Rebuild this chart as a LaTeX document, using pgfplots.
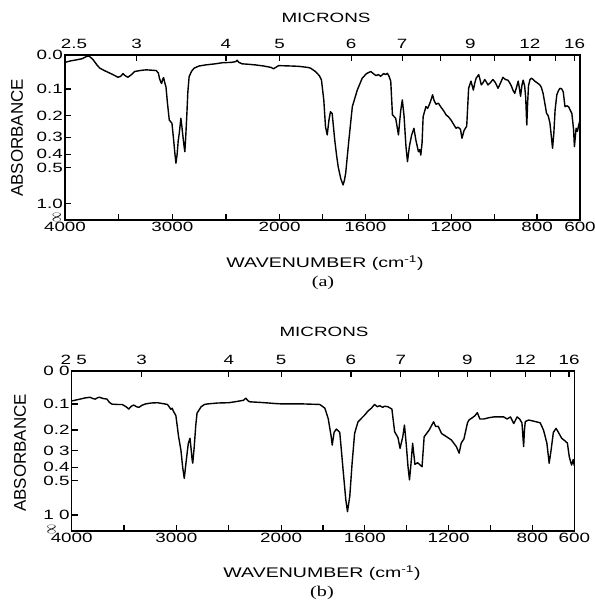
\documentclass[border=0pt]{standalone}
\usepackage{fontspec}
\setmainfont{Liberation Sans}
\newfontfamily\widesans{Liberation Sans}[FakeStretch=1.4]
\newfontfamily\wideserif{Liberation Serif}[FakeStretch=1.35]
\usepackage{pgfplots}
\usepackage{pgfplotstable}
\pgfplotsset{compat=1.18}

% spectrum (a): wavenumber (cm^-1), absorbance
\pgfplotstableread{
wn A
4000 0.020
3950 0.016
3892 0.013
3840 0.010
3800 0.004
3775 0.003
3740 0.012
3700 0.028
3676 0.036
3640 0.042
3614 0.046
3560 0.054
3506 0.063
3480 0.060
3460 0.052
3440 0.058
3414 0.063
3380 0.055
3352 0.046
3300 0.043
3244 0.041
3151 0.043
3130 0.050
3120 0.066
3105 0.080
3099 0.082
3090 0.070
3081 0.064
3070 0.080
3059 0.093
3045 0.150
3028 0.218
3003 0.232
2990 0.300
2975 0.400
2966 0.463
2955 0.400
2945 0.320
2935 0.280
2920 0.210
2910 0.250
2900 0.300
2890 0.350
2883 0.383
2875 0.300
2865 0.200
2855 0.110
2843 0.061
2820 0.045
2796 0.036
2750 0.030
2688 0.027
2600 0.024
2534 0.021
2450 0.020
2410 0.018
2396 0.014
2380 0.020
2349 0.024
2300 0.025
2225 0.027
2150 0.030
2080 0.034
2056 0.038
2030 0.033
2009 0.029
1950 0.030
1911 0.031
1870 0.034
1856 0.036
1833 0.046
1815 0.058
1805 0.071
1794 0.138
1786 0.248
1778 0.288
1770 0.218
1763 0.183
1755 0.190
1743 0.314
1735 0.400
1727 0.491
1715 0.600
1704 0.673
1698 0.620
1692 0.548
1677 0.314
1661 0.163
1638 0.104
1615 0.066
1595 0.052
1575 0.046
1563 0.052
1551 0.058
1540 0.055
1529 0.060
1515 0.052
1505 0.055
1498 0.051
1490 0.060
1482 0.075
1474 0.196
1459 0.210
1446 0.288
1440 0.220
1435 0.176
1428 0.138
1420 0.200
1411 0.352
1404 0.452
1395 0.350
1385 0.290
1374 0.255
1365 0.314
1353 0.383
1347 0.370
1342 0.405
1336 0.330
1331 0.203
1318 0.163
1310 0.170
1302 0.155
1295 0.140
1287 0.120
1280 0.140
1271 0.154
1260 0.150
1248 0.165
1235 0.180
1224 0.196
1212 0.205
1201 0.218
1190 0.235
1178 0.255
1168 0.250
1157 0.260
1150 0.305
1140 0.265
1128 0.245
1119 0.098
1108 0.075
1097 0.104
1090 0.080
1084 0.066
1072 0.055
1066 0.070
1060 0.087
1052 0.080
1044 0.070
1036 0.078
1029 0.087
1018 0.080
1006 0.070
994 0.080
982 0.098
970 0.080
959 0.063
948 0.070
936 0.072
928 0.080
920 0.090
912 0.105
904 0.115
896 0.095
888 0.075
882 0.100
877 0.125
871 0.090
865 0.072
858 0.090
853 0.130
848 0.240
844 0.150
840 0.090
833 0.070
826 0.066
818 0.070
811 0.075
800 0.080
787 0.087
780 0.095
772 0.115
764 0.150
756 0.189
748 0.200
740 0.232
734 0.290
728 0.362
722 0.280
716 0.176
708 0.120
700 0.105
693 0.098
685 0.100
678 0.110
670 0.163
660 0.160
652 0.165
646 0.176
638 0.190
630 0.260
626 0.352
622 0.300
618 0.255
612 0.270
606 0.240
600 0.218
}\specA

% spectrum (b)
\pgfplotstableread{
wn A
4000 0.090
3985 0.089
3920 0.084
3870 0.080
3824 0.078
3800 0.082
3776 0.084
3750 0.079
3734 0.078
3700 0.082
3663 0.084
3640 0.095
3615 0.101
3560 0.102
3518 0.102
3480 0.110
3455 0.118
3430 0.108
3407 0.104
3380 0.110
3358 0.112
3330 0.105
3294 0.100
3240 0.097
3181 0.096
3130 0.099
3085 0.102
3060 0.115
3053 0.119
3040 0.115
3030 0.125
3005 0.142
2990 0.190
2979 0.230
2957 0.296
2940 0.400
2925 0.483
2910 0.380
2895 0.300
2886 0.261
2870 0.237
2858 0.300
2850 0.350
2844 0.373
2830 0.280
2815 0.180
2803 0.133
2764 0.110
2732 0.102
2700 0.100
2603 0.097
2500 0.096
2443 0.093
2360 0.088
2337 0.081
2315 0.090
2298 0.093
2200 0.095
2121 0.097
2050 0.099
1997 0.100
1902 0.100
1815 0.102
1791 0.115
1775 0.154
1762 0.222
1756 0.270
1747 0.210
1736 0.196
1720 0.210
1712 0.300
1704 0.419
1691 0.712
1683 0.917
1672 0.660
1661 0.373
1649 0.215
1633 0.166
1601 0.140
1585 0.125
1569 0.115
1554 0.102
1540 0.110
1530 0.106
1515 0.112
1506 0.108
1490 0.110
1471 0.118
1458 0.207
1442 0.234
1432 0.287
1419 0.230
1411 0.179
1403 0.260
1394 0.396
1387 0.496
1380 0.380
1372 0.261
1361 0.380
1348 0.370
1336 0.385
1327 0.396
1317 0.230
1293 0.200
1272 0.166
1262 0.185
1250 0.184
1234 0.215
1210 0.230
1187 0.245
1163 0.278
1150 0.313
1140 0.260
1127 0.240
1110 0.170
1103 0.159
1087 0.150
1075 0.143
1063 0.131
1051 0.155
1032 0.155
1008 0.150
984 0.147
961 0.147
937 0.147
921 0.155
905 0.147
889 0.173
873 0.147
861 0.155
850 0.170
846 0.220
842 0.278
838 0.200
834 0.165
818 0.159
786 0.165
763 0.170
747 0.200
731 0.260
720 0.373
710 0.290
700 0.210
687 0.193
676 0.210
660 0.237
644 0.250
633 0.260
624 0.333
613 0.385
605 0.350
600 0.390
}\specB

% wavenumber axis: 1000 cm^-1 per unit above 2000, 500 per unit below
% absorbance axis: linear in transmittance 10^(-A)
\pgfplotsset{
  irax/.style={
    scale only axis, anchor=south west,
    xmin=0, xmax=4.8, ymin=0, ymax=1,
    axis line style={line width=1.5bp},
    tick style={black, line width=1.2bp},
    major tick length=6bp, tick align=inside,
    xticklabel style={font=\widesans\fontsize{13.5}{14}\selectfont, inner sep=1.5bp},
    yticklabel style={font=\widesans\fontsize{13.5}{14}\selectfont, inner sep=2bp},
  },
  bottomax/.style={irax,
    xtick pos=left, ytick pos=left,
    xtick={0,0.5,1,1.5,2,2.4,2.8,3.2,3.6,4,4.4,4.8},
    xticklabels={4000,,3000,,2000,,1600,,1200,,800,600},
    ytick={1,0.7943,0.6310,0.5012,0.3981,0.3162,0.1,0},
  },
  topax/.style={irax,
    axis line style={draw=none},
    xtick pos=right, xticklabel pos=right, ytick=\empty,
    xticklabel style={inner sep=0pt, yshift=6bp},
    xtick={0,0.6667,1.5,2,2.6667,3.1429,3.5,3.7778,4,4.3333,4.5714,4.75},
  },
  spec/.style={black, line width=1.4bp, line join=round},
}
\newcommand{\infsym}{\rotatebox{90}{\scalebox{0.7}[1.3]{$\infty$}}}

\begin{document}
\begin{tikzpicture}
\useasboundingbox (0,0) rectangle (595bp,612bp);

% ---- (a)
\begin{axis}[bottomax, at={(65bp,392bp)}, width=515bp, height=165bp,
  yticklabels={0.0,0.1,0.2,0.3,0.4,0.5,1.0,\raisebox{5bp}{\infsym}\hspace*{2bp}}]
\addplot[spec] table[x expr={(4000-max(\thisrow{wn},2000))/1000+(2000-min(\thisrow{wn},2000))/500},
  y expr={10^(-\thisrow{A})}] {\specA};
\end{axis}
\begin{axis}[topax, at={(65bp,392bp)}, width=515bp, height=165bp,
  xticklabels={\hspace*{18bp}2.5,3,4,5,6,7,,9,,12,,16}]
\end{axis}

% ---- (b)
\begin{axis}[bottomax, at={(71.7bp,81bp)}, width=502.6bp, height=160bp,
  yticklabels={0 0,0.1,0.2,0 3,0.4,0.5,1 0,\raisebox{3bp}{\infsym}\hspace*{14bp}}]
\addplot[spec] table[x expr={(4000-max(\thisrow{wn},2000))/1000+(2000-min(\thisrow{wn},2000))/500},
  y expr={10^(-\thisrow{A})}] {\specB};
\end{axis}
\begin{axis}[topax, at={(71.7bp,81bp)}, width=502.6bp, height=160bp,
  xticklabels={\hspace*{4bp}2 5,3,4,5,6,7,,9,,12,,16}]
\end{axis}

% titles
\begin{scope}[every node/.style={inner sep=0pt}]
\node[font=\widesans\fontsize{13.5}{14}\selectfont] at (326bp,594bp) {MICRONS};
\node[font=\widesans\fontsize{14}{14}\selectfont] at (325bp,349bp) {WAVENUMBER (cm\textsuperscript{-1})};
\node[font=\wideserif\fontsize{15}{15}\selectfont] at (323bp,329bp) {(a)};
\node[font=\fontsize{17}{17}\selectfont, rotate=90] at (17bp,474bp) {ABSORBANCE};

\node[font=\widesans\fontsize{13.5}{14}\selectfont] at (324bp,280bp) {MICRONS};
\node[font=\widesans\fontsize{14}{14}\selectfont] at (322bp,39bp) {WAVENUMBER (cm\textsuperscript{-1})};
\node[font=\wideserif\fontsize{15}{15}\selectfont] at (322bp,19bp) {(b)};
\node[font=\fontsize{17}{17}\selectfont, rotate=90] at (20bp,159bp) {ABSORBANCE};
\end{scope}
\end{tikzpicture}
\end{document}
